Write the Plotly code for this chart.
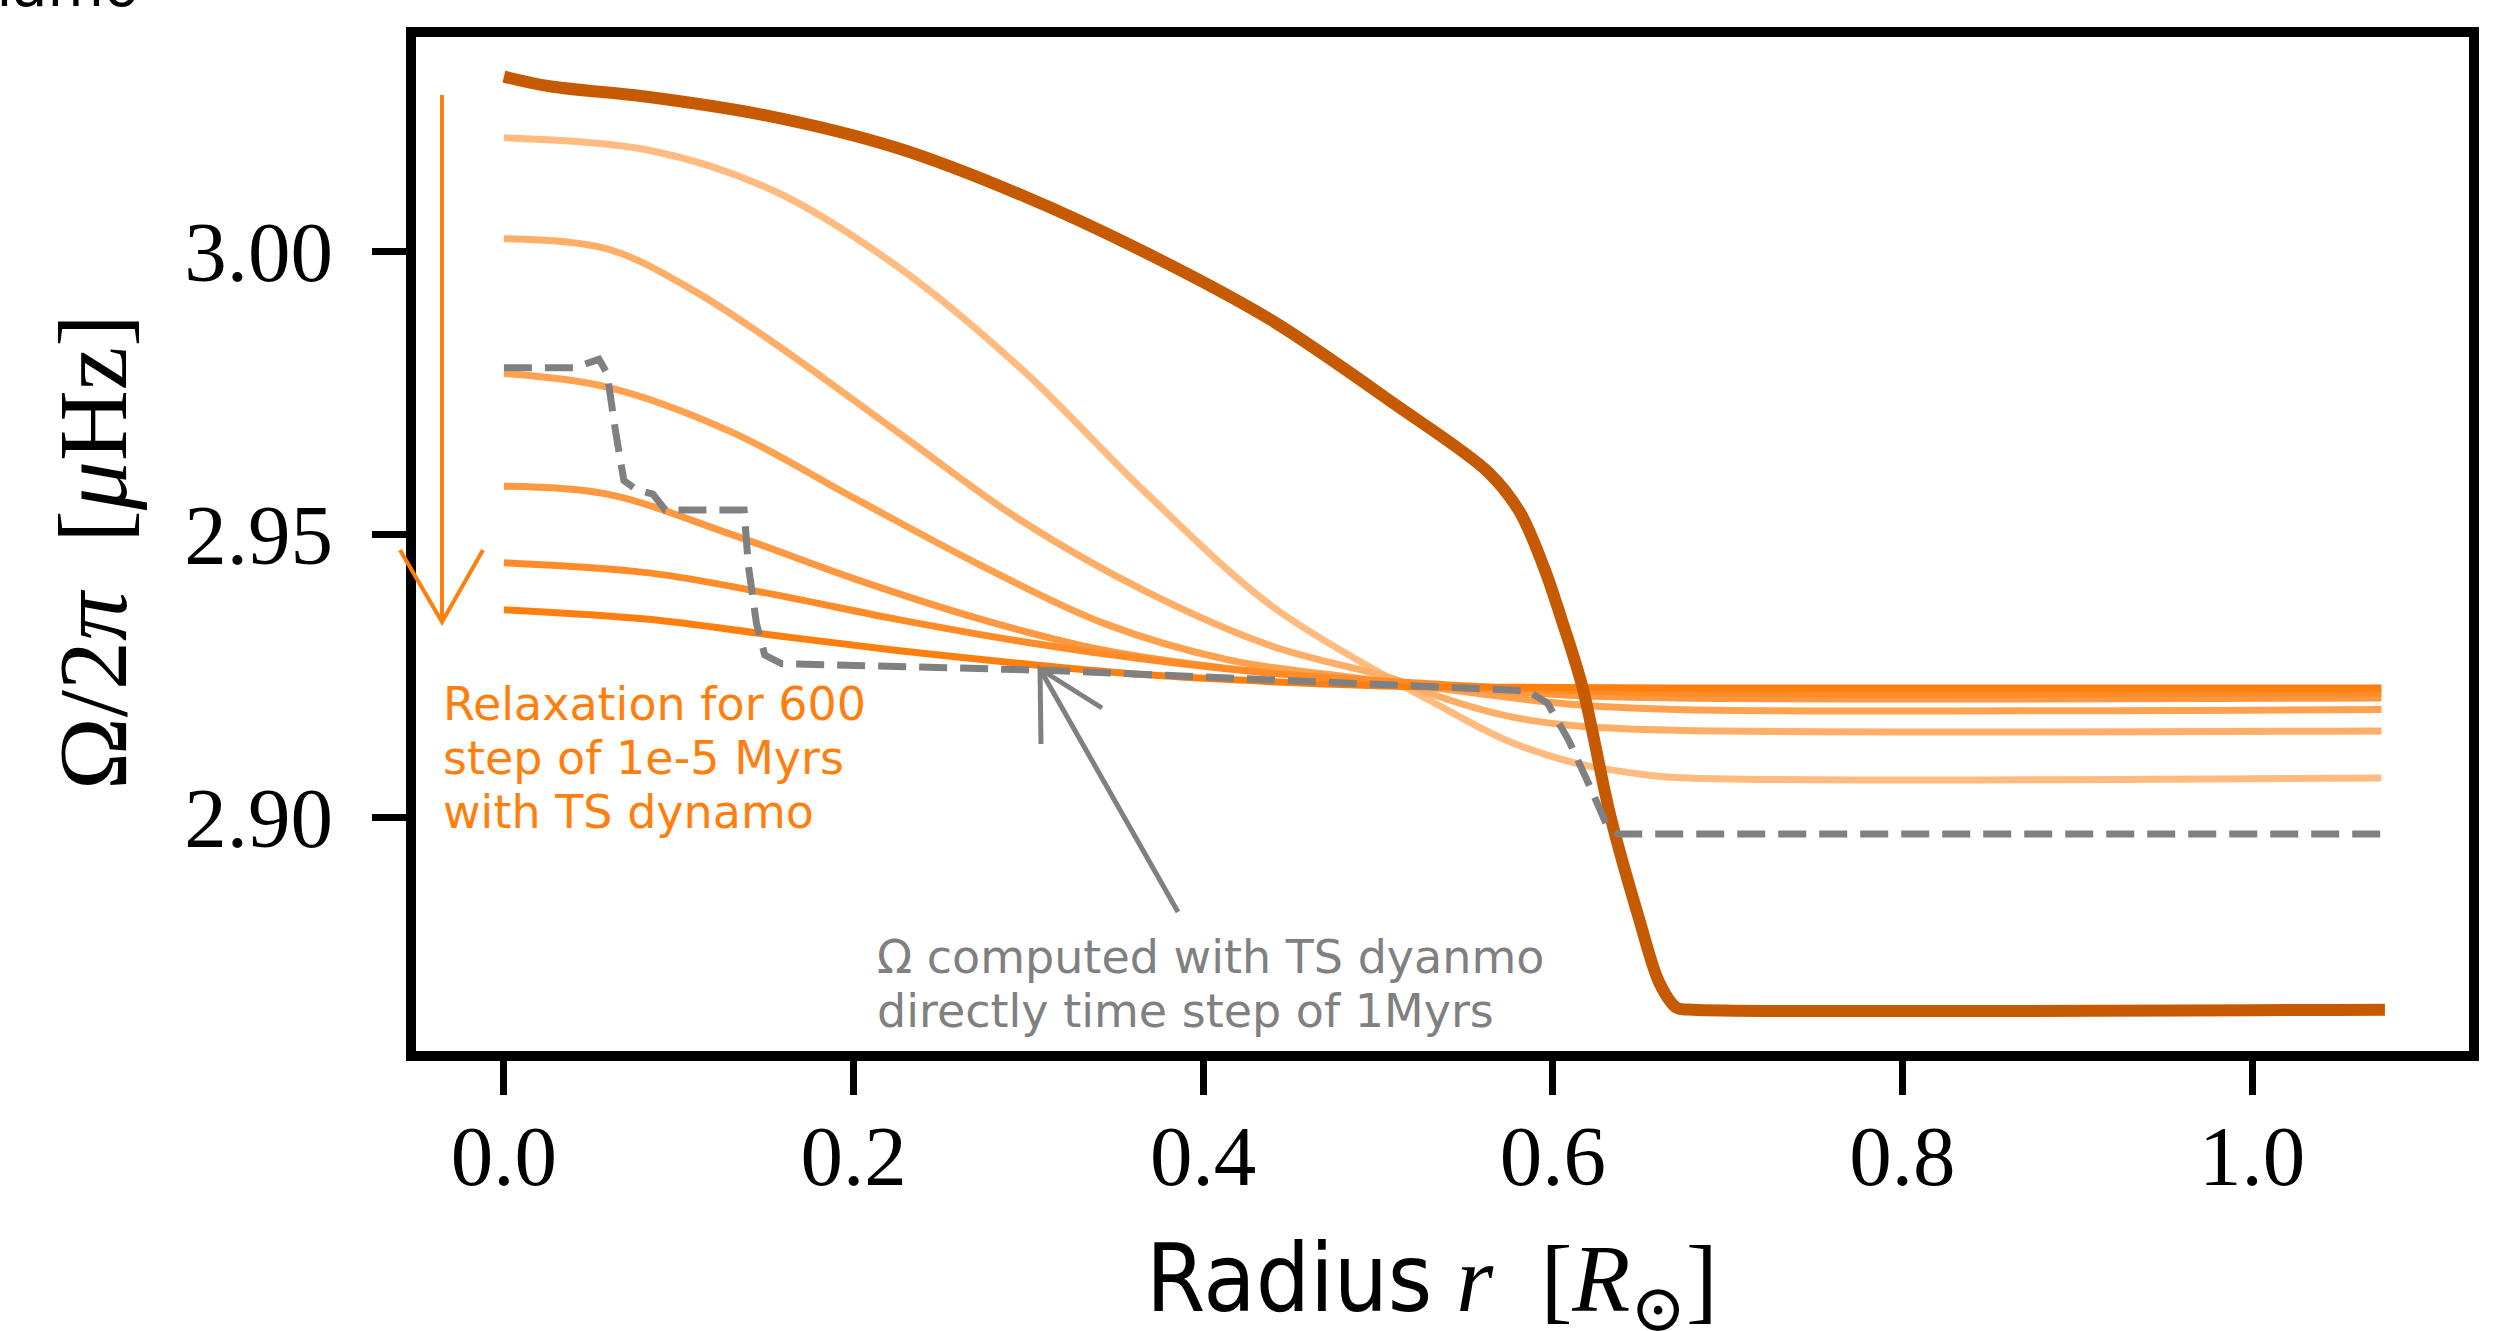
import plotly.graph_objects as go

# ---------------- data ----------------
r_initial = [0.0, 0.026, 0.083, 0.154, 0.225, 0.296, 0.368, 0.439, 0.510, 0.563,
             0.581, 0.595, 0.605, 0.617, 0.633, 0.649, 0.661, 0.671, 0.680, 1.076]
omega_initial = [3.0308, 3.0291, 3.0272, 3.0237, 3.0182, 3.0099, 2.9996, 2.9878, 2.9729, 2.9610,
                 2.9540, 2.9441, 2.9350, 2.9230, 2.9002, 2.8825, 2.8708, 2.8664, 2.8661, 2.8661]

r_relax_1 = [0.0, 0.083, 0.154, 0.225, 0.296, 0.368, 0.439, 0.510, 0.529, 0.573, 0.613, 0.645, 0.670, 1.074]
omega_relax_1 = [3.0200, 3.0178, 3.0107, 2.9973, 2.9792, 2.9571, 2.9374, 2.9240, 2.9208, 2.9137,
                 2.9096, 2.9079, 2.9071, 2.9070]

r_relax_2 = [0.0, 0.059, 0.107, 0.154, 0.225, 0.296, 0.368, 0.439, 0.510, 0.529, 0.573, 0.613, 0.670, 1.074]
omega_relax_2 = [3.0022, 3.0004, 2.9933, 2.9839, 2.9681, 2.9524, 2.9398, 2.9303, 2.9244, 2.9220,
                 2.9180, 2.9162, 2.9154, 2.9153]

r_relax_3 = [0.0, 0.059, 0.130, 0.201, 0.273, 0.344, 0.415, 0.486, 0.550, 0.610, 0.670, 1.074]
omega_relax_3 = [2.9784, 2.9760, 2.9681, 2.9563, 2.9445, 2.9342, 2.9278, 2.9247, 2.9222, 2.9200,
                 2.9191, 2.9191]

r_relax_4 = [0.0, 0.059, 0.130, 0.201, 0.273, 0.344, 0.415, 0.486, 0.550, 0.610, 0.670, 1.074]
omega_relax_4 = [2.9585, 2.9571, 2.9500, 2.9421, 2.9350, 2.9295, 2.9263, 2.9244, 2.9228, 2.9216,
                 2.9211, 2.9211]

r_relax_5 = [0.0, 0.083, 0.154, 0.225, 0.296, 0.368, 0.439, 0.510, 0.580, 0.670, 1.074]
omega_relax_5 = [2.9450, 2.9432, 2.9394, 2.9350, 2.9311, 2.9279, 2.9255, 2.9240, 2.9228, 2.9220, 2.9220]

r_relax_6 = [0.0, 0.083, 0.154, 0.225, 0.296, 0.368, 0.439, 0.510, 0.580, 0.670, 1.074]
omega_relax_6 = [2.9367, 2.9350, 2.9322, 2.9295, 2.9272, 2.9252, 2.9240, 2.9232, 2.9230, 2.9229, 2.9229]

r_direct = [0.0, 0.040, 0.0544, 0.059, 0.0639, 0.0686, 0.0757, 0.0852, 0.0923, 0.1374, 0.1398,
            0.1445, 0.1492, 0.1587, 0.3105, 0.486, 0.5856, 0.597, 0.609, 0.6212, 0.6312, 0.6373, 1.0735]
omega_direct = [2.9794, 2.9794, 2.9809, 2.9784, 2.9681, 2.9595, 2.9579, 2.9571, 2.9543, 2.9543, 2.9445,
                2.9342, 2.9287, 2.9272, 2.9260, 2.9236, 2.9224, 2.9202, 2.9137, 2.9055, 2.8984, 2.8971, 2.8971]

x_tick_vals = [0.0, 0.2, 0.4, 0.6, 0.8, 1.0]
x_tick_text = ["0.0", "0.2", "0.4", "0.6", "0.8", "1.0"]
y_tick_vals = [2.90, 2.95, 3.00]
y_tick_text = ["2.90", "2.95", "3.00"]

relax_r = [r_relax_1, r_relax_2, r_relax_3, r_relax_4, r_relax_5, r_relax_6]
relax_omega = [omega_relax_1, omega_relax_2, omega_relax_3, omega_relax_4, omega_relax_5, omega_relax_6]
relax_colors = ["#ffbb80", "#ffae68", "#ffa24f", "#ff9840", "#ff8c28", "#ff7f0e"]

# ---------------- figure ----------------
W, H = 2508, 1331
L, R, T, B = 416, 39, 37, 280
PW, PH = W - L - R, H - T - B


def px(x):
    return (x - L) / PW


def py(y):
    return (H - B - y) / PH


fig = go.Figure()

for rr, oo, col in zip(relax_r, relax_omega, relax_colors):
    fig.add_trace(go.Scatter(x=rr, y=oo, mode="lines",
                             line=dict(color=col, width=7, shape="spline", smoothing=1.0),
                             showlegend=False, hoverinfo="skip"))

fig.add_trace(go.Scatter(x=r_initial, y=omega_initial, mode="lines",
                         line=dict(color="#c55a00", width=12, shape="spline", smoothing=0.9),
                         showlegend=False, hoverinfo="skip"))

fig.add_trace(go.Scatter(x=r_direct, y=omega_direct, mode="lines",
                         line=dict(color="#808080", width=7, dash="28px,13px"),
                         showlegend=False, hoverinfo="skip"))

axis_common = dict(showgrid=False, zeroline=False, showline=True, linecolor="black",
                   linewidth=10, mirror=True, ticks="outside", ticklen=34, tickwidth=7,
                   tickcolor="black",
                   tickfont=dict(family="Liberation Serif, DejaVu Serif, serif", size=85, color="black"))

fig.update_xaxes(range=[-0.0503, 1.1241], tickvals=x_tick_vals, ticktext=x_tick_text,
                 ticklabelstandoff=-12, **axis_common)
fig.update_yaxes(range=[2.8588, 3.0378], tickvals=y_tick_vals, ticktext=y_tick_text,
                 ticklabelstandoff=22, **axis_common)

shapes = []
# orange relaxation arrow
ox, oy0, oy1 = 442, 95, 622
shapes.append(dict(type="line", xref="paper", yref="paper", x0=px(ox), y0=py(oy0), x1=px(ox), y1=py(oy1),
                   line=dict(color="#ff7f0e", width=4)))
shapes.append(dict(type="path", xref="paper", yref="paper",
                   path=f"M {px(400)},{py(550)} L {px(ox)},{py(oy1)} L {px(483)},{py(550)}",
                   line=dict(color="#ff7f0e", width=4)))
# gray arrow
shapes.append(dict(type="line", xref="paper", yref="paper", x0=px(1178), y0=py(912), x1=px(1040), y1=py(669),
                   line=dict(color="#808080", width=5)))
shapes.append(dict(type="path", xref="paper", yref="paper",
                   path=f"M {px(1041)},{py(744)} L {px(1040)},{py(669)} L {px(1102)},{py(708)}",
                   line=dict(color="#808080", width=5)))

annotations = []
sans = "DejaVu Sans, Verdana, sans-serif"
for txt, yc in [("Relaxation for 600", 704), ("step of 1e-5 Myrs", 758), ("with TS dynamo", 812)]:
    annotations.append(dict(text=txt, xref="paper", yref="paper", x=px(441), y=py(yc),
                            xanchor="left", yanchor="middle", showarrow=False,
                            font=dict(family=sans, size=46, color="#ff7f0e")))
for txt, yc in [("Ω computed with TS dyanmo", 957), ("directly time step of 1Myrs", 1011)]:
    annotations.append(dict(text=txt, xref="paper", yref="paper", x=px(875), y=py(yc),
                            xanchor="left", yanchor="middle", showarrow=False,
                            font=dict(family=sans, size=46, color="#808080")))

# axis titles
annotations.append(dict(text="Ω/2<i>π</i>  [<i>μ</i>Hz]", xref="paper", yref="paper",
                        x=px(93), y=py(552), xanchor="center", yanchor="middle", textangle=-90,
                        showarrow=False,
                        font=dict(family="Liberation Serif, DejaVu Serif, serif", size=98, color="black")))
annotations.append(dict(
    text="<span style='font-family:Liberation Sans Narrow, DejaVu Sans Condensed, Liberation Sans, sans-serif'>Radius</span>"
         " <i>r</i>\u2002[<i>R</i><sub>⊙</sub>]",
    xref="paper", yref="paper", x=px(1432), y=py(1284), xanchor="center", yanchor="middle",
    showarrow=False,
    font=dict(family="Liberation Serif, DejaVu Serif, serif", size=95, color="black")))

# clipped text at the very top-left
annotations.append(dict(text="dynamo", xref="paper", yref="paper", x=px(141), y=py(22),
                        xanchor="right", yanchor="bottom", showarrow=False,
                        font=dict(family=sans, size=58, color="black")))

fig.update_layout(width=W, height=H, margin=dict(l=L, r=R, t=T, b=B, pad=0),
                  paper_bgcolor="white", plot_bgcolor="white",
                  shapes=shapes, annotations=annotations)

fig.write_html("out.html", config={"displayModeBar": False},
               post_script="document.body.style.margin='0';document.body.style.overflow='hidden';")
